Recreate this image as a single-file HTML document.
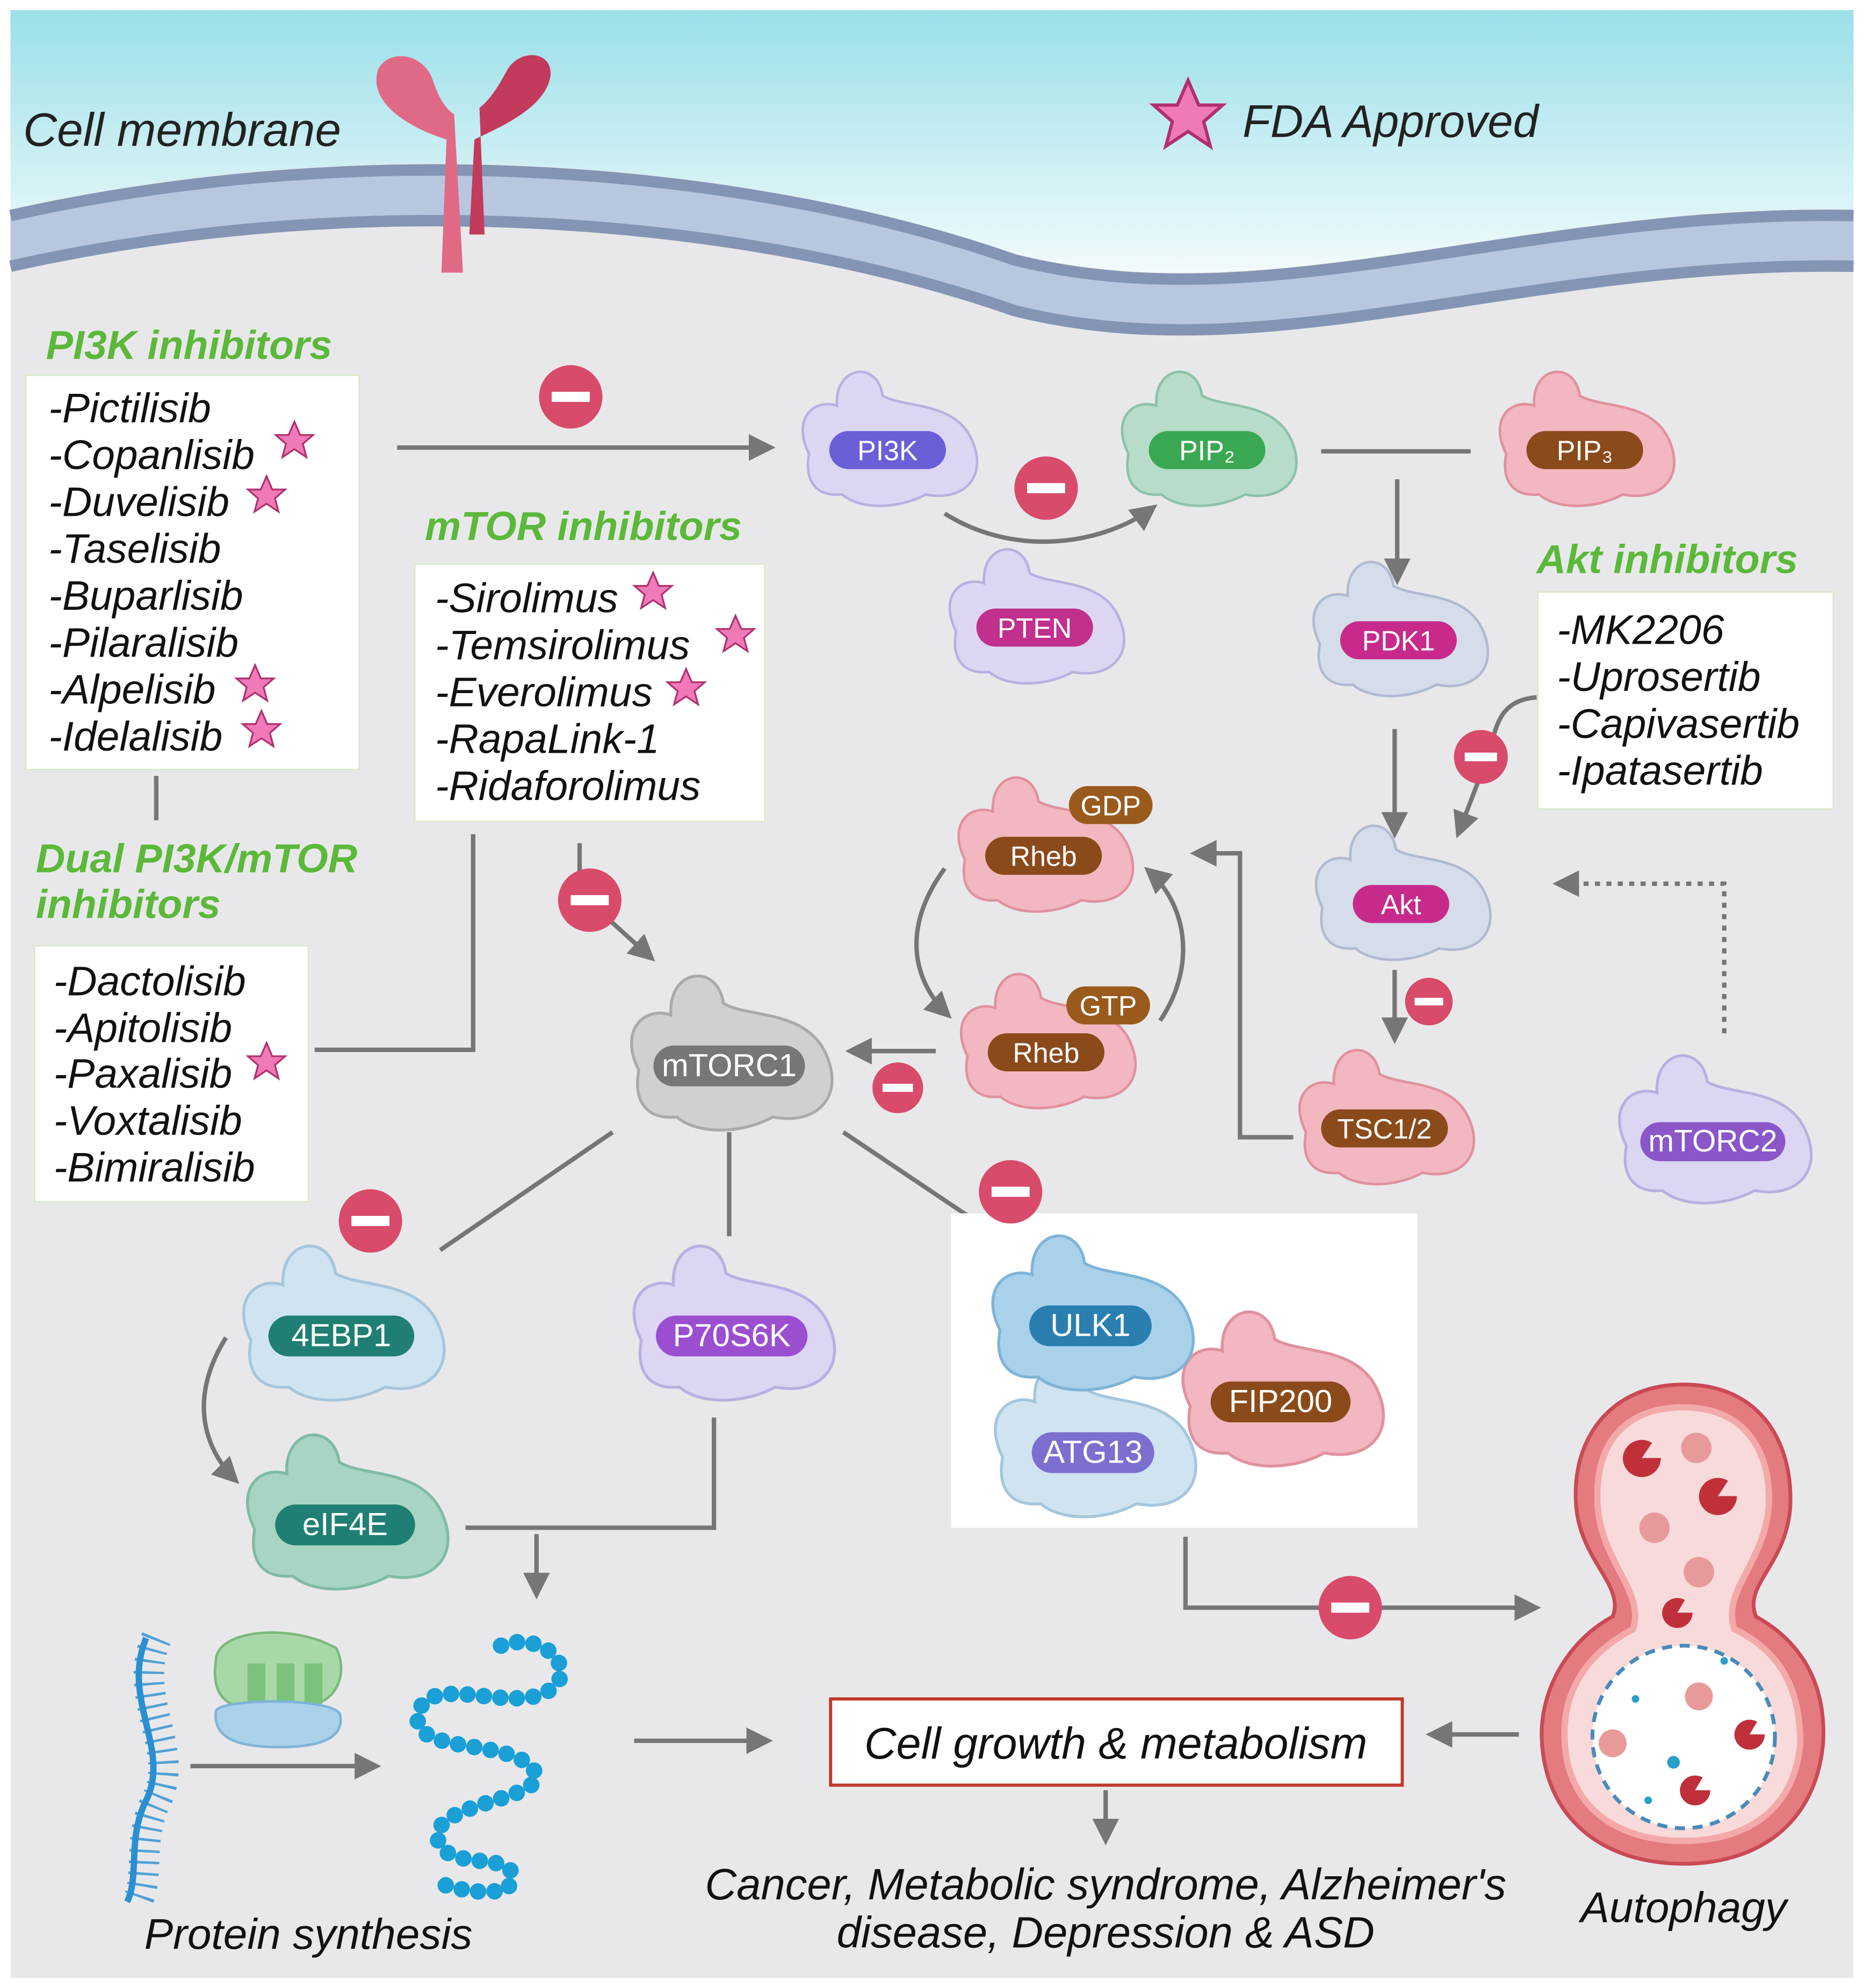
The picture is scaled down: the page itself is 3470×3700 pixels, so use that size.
<!DOCTYPE html>
<html><head><meta charset="utf-8"><style>
html,body{margin:0;padding:0;background:#fff}
svg{display:block}
text{font-family:"Liberation Sans",sans-serif}
.it{font-style:italic}
.g{fill:#5cb83a;font-weight:bold;font-style:italic;font-size:32px}
.li{font-style:italic;font-size:32.5px;fill:#111}
.pl{fill:#fff;font-size:22px;text-anchor:middle}
.ln{stroke:#767676;stroke-width:3.5;fill:none}
</style></head><body>
<svg width="3470" height="3700" viewBox="0 0 1470 1568" xmlns="http://www.w3.org/2000/svg">
<defs>
<linearGradient id="sky" x1="0" y1="0" x2="0" y2="1"><stop offset="0" stop-color="#9adfe8"/><stop offset="1" stop-color="#f2fbfc"/></linearGradient>
<marker id="ar" markerWidth="6" markerHeight="6" refX="5" refY="3" orient="auto" markerUnits="strokeWidth"><path d="M0,0 L6,3 L0,6 Z" fill="#767676"/></marker>
<path id="blob" d="M-62,8 C-76,-20 -58,-36 -40,-30 C-42,-62 -8,-66 -4,-38 C12,-28 52,-34 66,-4 C80,26 60,46 30,40 C8,52 -22,52 -36,40 C-56,42 -66,30 -62,8 Z"/>
<g id="inh"><circle r="25" fill="#d84b6a"/><rect x="-15" y="-4" width="30" height="8" fill="#fff"/></g>
<path id="star" d="M0,-22 L6.5,-7 L21,-7 L9.5,3 L13.5,18 L0,9 L-13.5,18 L-9.5,3 L-21,-7 L-6.5,-7 Z" fill="#f07ab8" stroke="#b0306f" stroke-width="2"/>
</defs>
<rect x="0" y="0" width="1470" height="1568" fill="#fff"/>
<rect x="8" y="8" width="1454" height="1552" fill="#e8e8ea"/>
<path d="M8,8 H1462 V165 C1200,160 1000,250 800,200 C600,130 300,100 8,165 Z" fill="url(#sky)"/>
<path d="M8,170 C300,105 600,135 800,205 C1000,255 1200,165 1462,170 L1462,210 C1200,205 1000,295 800,245 C600,175 300,145 8,210 Z" fill="#b8c6e0"/>
<path d="M8,170 C300,105 600,135 800,205 C1000,255 1200,165 1462,170" stroke="#8494b4" stroke-width="9" fill="none"/>
<path d="M8,210 C300,145 600,175 800,245 C1000,295 1200,205 1462,210" stroke="#8494b4" stroke-width="9" fill="none"/>
<path d="M348,215 L352,110 C320,100 290,80 298,55 C305,40 330,40 340,60 C345,75 350,85 358,90 L365,215 Z" fill="#e06a85"/>
<path d="M370,185 L374,110 C395,100 430,85 434,60 C436,40 410,38 400,55 C392,70 385,80 378,85 L382,185 Z" fill="#c23a5c"/>
<text x="18" y="115" class="it" font-size="37" fill="#222">Cell membrane</text>
<use href="#star" transform="translate(937,92) scale(1.3)"/>
<text x="980" y="108" class="it" font-size="36" fill="#222">FDA Approved</text>

<line class="ln" x1="313" y1="353" x2="608" y2="353" marker-end="url(#ar)"/>
<line class="ln" x1="123" y1="612" x2="123" y2="647"/>
<polyline class="ln" points="373,658 373,828 248,828"/>
<line class="ln" x1="457" y1="665" x2="457" y2="690"/>
<line class="ln" x1="482" y1="727" x2="514" y2="756" marker-end="url(#ar)"/>
<path class="ln" d="M745,405 C800,440 870,430 910,400" marker-end="url(#ar)"/>
<line class="ln" x1="1042" y1="356" x2="1160" y2="356"/>
<line class="ln" x1="1102" y1="378" x2="1102" y2="458" marker-end="url(#ar)"/>
<line class="ln" x1="1100" y1="575" x2="1100" y2="658" marker-end="url(#ar)"/>
<path class="ln" d="M1212,550 C1185,552 1180,570 1176,590 L1150,658" marker-end="url(#ar)"/>
<line class="ln" x1="1100" y1="765" x2="1100" y2="820" marker-end="url(#ar)"/>
<polyline class="ln" points="1020,897 978,897 978,673 942,673" marker-end="url(#ar)"/>
<path class="ln" d="M745,685 C712,730 718,772 748,801" marker-end="url(#ar)"/>
<path class="ln" d="M915,805 C945,760 935,712 905,686" marker-end="url(#ar)"/>
<line class="ln" x1="738" y1="829" x2="670" y2="829" marker-end="url(#ar)"/>
<polyline class="ln" points="1360,815 1360,697 1228,697" stroke-dasharray="4 5" marker-end="url(#ar)"/>
<line class="ln" x1="483" y1="893" x2="347" y2="986"/>
<line class="ln" x1="575" y1="893" x2="575" y2="975"/>
<line class="ln" x1="665" y1="893" x2="802" y2="985"/>
<path class="ln" d="M178,1055 C150,1100 158,1140 186,1168" marker-end="url(#ar)"/>
<polyline class="ln" points="563,1118 563,1205 367,1205"/>
<line class="ln" x1="423" y1="1210" x2="423" y2="1258" marker-end="url(#ar)"/>
<polyline class="ln" points="935,1212 935,1268 1212,1268" marker-end="url(#ar)"/>
<line class="ln" x1="500" y1="1373" x2="606" y2="1373" marker-end="url(#ar)"/>
<line class="ln" x1="150" y1="1393" x2="297" y2="1393" marker-end="url(#ar)"/>
<line class="ln" x1="1198" y1="1368" x2="1128" y2="1368" marker-end="url(#ar)"/>
<line class="ln" x1="872" y1="1412" x2="872" y2="1452" marker-end="url(#ar)"/>

<text x="36" y="283" class="g">PI3K inhibitors</text>
<rect x="20" y="296" width="263" height="311" fill="#fff" stroke="#d8e8c8"/>
<text x="38" y="333" class="li">-Pictilisib</text>
<text x="38" y="370" class="li">-Copanlisib</text>
<text x="38" y="407" class="li">-Duvelisib</text>
<text x="38" y="444" class="li">-Taselisib</text>
<text x="38" y="481" class="li">-Buparlisib</text>
<text x="38" y="518" class="li">-Pilaralisib</text>
<text x="38" y="555" class="li">-Alpelisib</text>
<text x="38" y="592" class="li">-Idelalisib</text>
<use href="#star" transform="translate(232,348) scale(.7)"/>
<use href="#star" transform="translate(210,391) scale(.7)"/>
<use href="#star" transform="translate(201,540) scale(.7)"/>
<use href="#star" transform="translate(206,576) scale(.7)"/>

<text x="335" y="426" class="g">mTOR inhibitors</text>
<rect x="327" y="445" width="276" height="203" fill="#fff" stroke="#d8e8c8"/>
<text x="343" y="483" class="li">-Sirolimus</text>
<text x="343" y="520" class="li">-Temsirolimus</text>
<text x="343" y="557" class="li">-Everolimus</text>
<text x="343" y="594" class="li">-RapaLink-1</text>
<text x="343" y="631" class="li">-Ridaforolimus</text>
<use href="#star" transform="translate(515,467) scale(.7)"/>
<use href="#star" transform="translate(580,501) scale(.7)"/>
<use href="#star" transform="translate(541,543) scale(.7)"/>

<text x="28" y="688" class="g">Dual PI3K/mTOR</text>
<text x="28" y="724" class="g">inhibitors</text>
<rect x="27" y="746" width="216" height="202" fill="#fff" stroke="#d8e8c8"/>
<text x="42" y="785" class="li">-Dactolisib</text>
<text x="42" y="822" class="li">-Apitolisib</text>
<text x="42" y="858" class="li">-Paxalisib</text>
<text x="42" y="895" class="li">-Voxtalisib</text>
<text x="42" y="932" class="li">-Bimiralisib</text>
<use href="#star" transform="translate(210,838) scale(.7)"/>

<text x="1212" y="452" class="g">Akt inhibitors</text>
<rect x="1213" y="467" width="233" height="171" fill="#fff" stroke="#d8e8c8"/>
<text x="1228" y="508" class="li">-MK2206</text>
<text x="1228" y="545" class="li">-Uprosertib</text>
<text x="1228" y="582" class="li">-Capivasertib</text>
<text x="1228" y="619" class="li">-Ipatasertib</text>

<rect x="750" y="957" width="368" height="248" fill="#fff"/>

<g transform="translate(700,350)"><use href="#blob" fill="#dcd6f2" stroke="#b9b0e0" stroke-width="2"/><rect x="-46" y="-10" width="92" height="30" rx="15" fill="#6a5fd6"/><text y="13" class="pl">PI3K</text></g>
<g transform="translate(952,350)"><use href="#blob" fill="#b7dcc9" stroke="#8cc2a8" stroke-width="2"/><rect x="-46" y="-10" width="92" height="30" rx="15" fill="#3aa853"/><text y="13" class="pl">PIP₂</text></g>
<g transform="translate(1250,350)"><use href="#blob" fill="#f2b7c0" stroke="#e0919e" stroke-width="2"/><rect x="-46" y="-10" width="92" height="30" rx="15" fill="#8b4a1a"/><text y="13" class="pl">PIP₃</text></g>
<g transform="translate(816,490)"><use href="#blob" fill="#dcd6f2" stroke="#b9b0e0" stroke-width="2"/><rect x="-46" y="-10" width="92" height="30" rx="15" fill="#c0308c"/><text y="13" class="pl">PTEN</text></g>
<g transform="translate(1103,500)"><use href="#blob" fill="#d5dcea" stroke="#b0bad0" stroke-width="2"/><rect x="-46" y="-10" width="92" height="30" rx="15" fill="#c72a8a"/><text y="13" class="pl">PDK1</text></g>
<g transform="translate(1105,708)"><use href="#blob" fill="#d5dcea" stroke="#b0bad0" stroke-width="2"/><rect x="-38" y="-10" width="76" height="30" rx="15" fill="#c72a8a"/><text y="13" class="pl">Akt</text></g>
<g transform="translate(823,670)"><use href="#blob" fill="#f2b7c0" stroke="#e0919e" stroke-width="2"/><rect x="-46" y="-10" width="92" height="30" rx="15" fill="#8b4a1a"/><text y="13" class="pl">Rheb</text></g>
<g transform="translate(876,635)"><rect x="-33" y="-15" width="66" height="30" rx="15" fill="#9a5a1c"/><text y="8" class="pl">GDP</text></g>
<g transform="translate(825,825)"><use href="#blob" fill="#f2b7c0" stroke="#e0919e" stroke-width="2"/><rect x="-46" y="-10" width="92" height="30" rx="15" fill="#8b4a1a"/><text y="13" class="pl">Rheb</text></g>
<g transform="translate(874,793)"><rect x="-33" y="-15" width="66" height="30" rx="15" fill="#9a5a1c"/><text y="8" class="pl">GTP</text></g>
<g transform="translate(1092,885)"><use href="#blob" fill="#f2b7c0" stroke="#e0919e" stroke-width="2"/><rect x="-50" y="-10" width="100" height="30" rx="15" fill="#8b4a1a"/><text y="13" class="pl">TSC1/2</text></g>
<g transform="translate(1351,895) scale(1.1)"><use href="#blob" fill="#dcd6f2" stroke="#b9b0e0" stroke-width="2"/><rect x="-52" y="-9" width="104" height="28" rx="14" fill="#8a56c8"/><text y="12" class="pl" font-size="20">mTORC2</text></g>
<g transform="translate(575,835) scale(1.15)"><use href="#blob" fill="#d0d0d0" stroke="#aaa" stroke-width="2"/><rect x="-52" y="-9" width="104" height="28" rx="14" fill="#777"/><text y="12" class="pl" font-size="20">mTORC1</text></g>
<g transform="translate(269,1048) scale(1.15)"><use href="#blob" fill="#cfe3f0" stroke="#a6c6dc" stroke-width="2"/><rect x="-50" y="-9" width="100" height="28" rx="14" fill="#1f7f72"/><text y="12" class="pl" font-size="20">4EBP1</text></g>
<g transform="translate(577,1048) scale(1.15)"><use href="#blob" fill="#dcd6f2" stroke="#b9b0e0" stroke-width="2"/><rect x="-52" y="-9" width="104" height="28" rx="14" fill="#9b4fd0"/><text y="12" class="pl" font-size="20">P70S6K</text></g>
<g transform="translate(272,1197) scale(1.15)"><use href="#blob" fill="#a8d5c3" stroke="#80bba4" stroke-width="2"/><rect x="-48" y="-9" width="96" height="28" rx="14" fill="#1f7f72"/><text y="12" class="pl" font-size="20">eIF4E</text></g>
<g transform="translate(1010,1100) scale(1.15)"><use href="#blob" fill="#f2b7c0" stroke="#e0919e" stroke-width="2"/><rect x="-48" y="-9" width="96" height="28" rx="14" fill="#8b4a1a"/><text y="12" class="pl" font-size="20">FIP200</text></g>
<g transform="translate(862,1140) scale(1.15)"><use href="#blob" fill="#cfe3f0" stroke="#a6c6dc" stroke-width="2"/><rect x="-42" y="-9" width="84" height="28" rx="14" fill="#7b6fd0"/><text y="12" class="pl" font-size="20">ATG13</text></g>
<g transform="translate(860,1040) scale(1.15)"><use href="#blob" fill="#a9d2ea" stroke="#7fb4d6" stroke-width="2"/><rect x="-42" y="-9" width="84" height="28" rx="14" fill="#2a7fb0"/><text y="12" class="pl" font-size="20">ULK1</text></g>

<use href="#inh" x="450" y="313"/><use href="#inh" x="825" y="385"/><use href="#inh" x="465" y="710"/>
<use href="#inh" x="708" y="858" transform="translate(708,858) scale(.8) translate(-708,-858)"/>
<use href="#inh" x="797" y="940"/><use href="#inh" x="292" y="963"/>
<use href="#inh" x="1168" y="597" transform="translate(1168,597) scale(.85) translate(-1168,-597)"/>
<use href="#inh" x="1127" y="790" transform="translate(1127,790) scale(.75) translate(-1127,-790)"/>
<use href="#inh" x="1065" y="1268"/>

<path d="M115,1292 C95,1340 135,1380 115,1420 C100,1450 110,1480 100,1500" stroke="#2a8fd0" stroke-width="5" fill="none"/>
<path d="M115,1292 C95,1340 135,1380 115,1420 C100,1450 110,1480 100,1500" stroke="#2a8fd0" stroke-width="24" fill="none" stroke-dasharray="2 7" transform="translate(8,0)" opacity=".8"/>
<path d="M170,1310 C170,1285 230,1280 265,1300 C275,1320 265,1345 240,1345 L185,1345 C170,1340 168,1325 170,1310 Z" fill="#a8d8a8" stroke="#7cb97c" stroke-width="2"/>
<rect x="195" y="1312" width="14" height="32" fill="#7cc27c"/><rect x="218" y="1312" width="14" height="32" fill="#7cc27c"/><rect x="240" y="1312" width="14" height="32" fill="#7cc27c"/>
<path d="M170,1350 C170,1340 260,1338 268,1352 C272,1372 250,1378 220,1378 C185,1378 168,1370 170,1350 Z" fill="#a9d2ea" stroke="#7fb4d6" stroke-width="2"/>
<path d="M395,1298 C430,1285 460,1320 430,1335 C400,1350 340,1320 330,1350 C320,1385 400,1370 420,1395 C440,1420 340,1420 345,1450 C350,1480 420,1455 400,1490 C380,1495 360,1490 345,1485" stroke="#1a9fd6" stroke-width="13" fill="none" stroke-linecap="round" stroke-dasharray="0 13"/>
<text x="243" y="1537" class="it" font-size="34" fill="#111" text-anchor="middle">Protein synthesis</text>

<rect x="655" y="1340" width="451" height="68" fill="#fff" stroke="#c0392b" stroke-width="2.5"/>
<text x="880" y="1387" class="it" font-size="35" fill="#111" text-anchor="middle">Cell growth &amp; metabolism</text>
<text x="872" y="1498" class="it" font-size="34.5" fill="#111" text-anchor="middle">Cancer, Metabolic syndrome, Alzheimer's</text>
<text x="872" y="1536" class="it" font-size="34.5" fill="#111" text-anchor="middle">disease, Depression &amp; ASD</text>

<path d="M1328,1092 C1390,1092 1415,1140 1412,1190 C1408,1235 1375,1250 1385,1275 C1430,1300 1440,1340 1438,1375 C1432,1440 1385,1470 1328,1470 C1265,1470 1218,1435 1216,1370 C1215,1335 1235,1295 1272,1275 C1282,1250 1245,1230 1243,1185 C1240,1135 1270,1092 1328,1092 Z" fill="#e47b7f" stroke="#c94a55" stroke-width="3"/>
<path d="M1328,1110 C1380,1110 1398,1150 1395,1190 C1390,1235 1358,1255 1368,1285 C1410,1305 1420,1340 1420,1375 C1415,1430 1375,1452 1328,1452 C1275,1452 1235,1425 1234,1370 C1233,1335 1250,1305 1288,1285 C1298,1255 1262,1232 1260,1185 C1258,1140 1280,1110 1328,1110 Z" fill="#f8dada" stroke="#f4a9a9" stroke-width="5"/>
<circle cx="1328" cy="1370" r="72" fill="#fff" stroke="#4a8ab8" stroke-width="3" stroke-dasharray="8 6"/>
<g fill="#c0303a">
<path d="M1295,1150 m-15,0 a15,15 0 1,0 30,0 l-15,0 l8,-12 a15,15 0 0,0 -23,12 Z"/>
<path d="M1355,1180 m-15,0 a15,15 0 1,0 30,0 l-15,0 l8,-12 a15,15 0 0,0 -23,12 Z"/>
<path d="M1323,1272 m-12,0 a12,12 0 1,0 24,0 l-12,0 l6,-10 a12,12 0 0,0 -18,10 Z"/>
<path d="M1380,1368 m-12,0 a12,12 0 1,0 24,0 l-12,0 l6,-10 a12,12 0 0,0 -18,10 Z"/>
<path d="M1337,1412 m-12,0 a12,12 0 1,0 24,0 l-12,0 l6,-10 a12,12 0 0,0 -18,10 Z"/>
</g>
<g fill="#e89a9a"><circle cx="1338" cy="1142" r="12"/><circle cx="1305" cy="1205" r="12"/><circle cx="1340" cy="1240" r="12"/><circle cx="1340" cy="1338" r="11"/><circle cx="1272" cy="1375" r="11"/></g>
<g fill="#2aa0c8"><circle cx="1320" cy="1390" r="5"/><circle cx="1290" cy="1340" r="3"/><circle cx="1360" cy="1310" r="3"/><circle cx="1300" cy="1420" r="3"/></g>
<text x="1328" y="1516" class="it" font-size="34" fill="#111" text-anchor="middle">Autophagy</text>
</svg>
</body></html>
